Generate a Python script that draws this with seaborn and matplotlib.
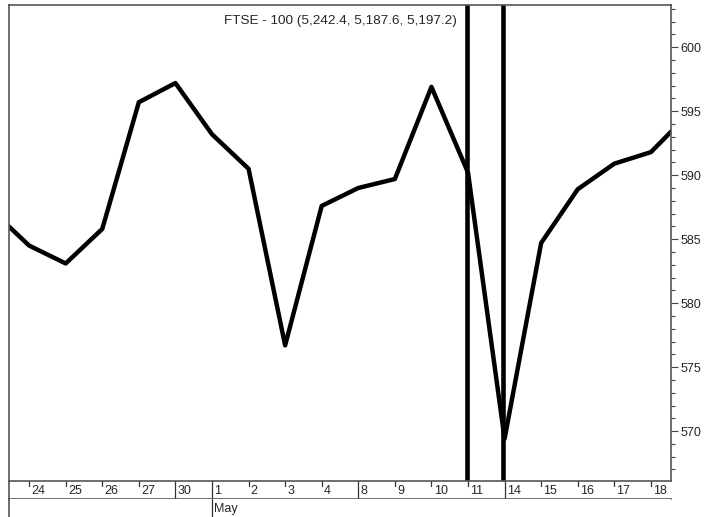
import seaborn as sns
import matplotlib.pyplot as plt
import pandas as pd

# Daily closes (scaled) - first and last points fall outside the visible range
days = ["23", "24", "25", "26", "27", "30", "1", "2", "3", "4", "8", "9",
        "10", "11", "14", "15", "16", "17", "18", "21"]
closes = [587.2, 584.5, 583.1, 585.8, 595.7, 597.2, 593.2, 590.5, 576.7, 587.6,
          589.0, 589.7, 596.9, 590.2, 569.4, 584.7, 588.9, 590.9, 591.8, 594.7]
# days that start a new week / month get a full separator line
week_starts = ["30", "1", "8", "14"]
month_label = "May"
month_start = "1"
# marker lines (drawn just left of these days)
event_days = ["11", "14"]
title = "FTSE - 100 (5,242.4, 5,187.6, 5,197.2)"

sns.set_style("white")
plt.rcParams['font.family'] = ['Liberation Sans', 'DejaVu Sans']

df = pd.DataFrame({"pos": range(-1, len(days) - 1), "day": days, "close": closes})
pos_of = dict(zip(df["day"], df["pos"]))

W, H = 706, 517
fig = plt.figure(figsize=(W / 100, H / 100), dpi=100)
left, right, top, bot = 9, 671, 5, 481
ax = fig.add_axes([left / W, 1 - bot / H, (right - left) / W, (bot - top) / H])
ax_d = fig.add_axes([left / W, 1 - 499 / H, (right - left) / W, (499 - bot) / H])
ax_m = fig.add_axes([left / W, 0, (right - left) / W, (H - 499) / H])

xlim = (-0.55, len(days) - 2.45)

sns.lineplot(data=df, x="pos", y="close", ax=ax, color="black", linewidth=3.2)
for d in event_days:
    ax.axvline(pos_of[d] - 0.03, color="black", linewidth=3.3)

ax.set_xlim(*xlim)
ax.set_ylim(566.1, 603.3)
ax.set_xlabel("")
ax.set_ylabel("")
ax.set_xticks([])
ax.yaxis.tick_right()
ax.set_yticks([570, 575, 580, 585, 590, 595, 600])
ax.set_yticks(range(567, 604), minor=True)
ax.tick_params(axis="y", which="major", length=5, width=0.8, color="#444444",
               labelsize=9, pad=2, right=True, left=False)
ax.tick_params(axis="y", which="minor", length=3, width=0.8, color="#444444",
               right=True, left=False)
for s in ["left", "top", "right"]:
    ax.spines[s].set_color("#555555")
    ax.spines[s].set_linewidth(1.2)
ax.spines["bottom"].set_visible(False)
ax.text(0.5, 0.978, title, transform=ax.transAxes, ha="center", va="top", fontsize=9.7)

# date band
ax_d.set_xlim(*xlim)
ax_d.set_ylim(0, 1)
ax_d.set_xticks([])
ax_d.set_yticks([])
for s in ["left", "top", "bottom"]:
    ax_d.spines[s].set_color("#555555")
    ax_d.spines[s].set_linewidth(1.2)
ax_d.spines["right"].set_visible(False)
for d, p in zip(days, df["pos"]):
    if p < 0 or p > len(days) - 3:
        continue
    if d in week_starts:
        ax_d.axvline(p, color="#333333", linewidth=0.9)
    else:
        ax_d.plot([p, p], [1, 0.72], color="#333333", linewidth=0.9)
    ax_d.text(p + 0.06, 0.42, d, ha="left", va="center", fontsize=9)

# month band
ax_m.set_xlim(*xlim)
ax_m.set_ylim(0, 1)
ax_m.set_xticks([])
ax_m.set_yticks([])
for s in ["top", "right", "bottom"]:
    ax_m.spines[s].set_visible(False)
ax_m.spines["left"].set_color("#555555")
ax_m.spines["left"].set_linewidth(1.2)
ax_m.axvline(pos_of[month_start], color="#333333", linewidth=0.9)
ax_m.text(pos_of[month_start] + 0.06, 0.45, month_label, ha="left", va="center", fontsize=9)

fig.savefig("out.png", dpi=100)
